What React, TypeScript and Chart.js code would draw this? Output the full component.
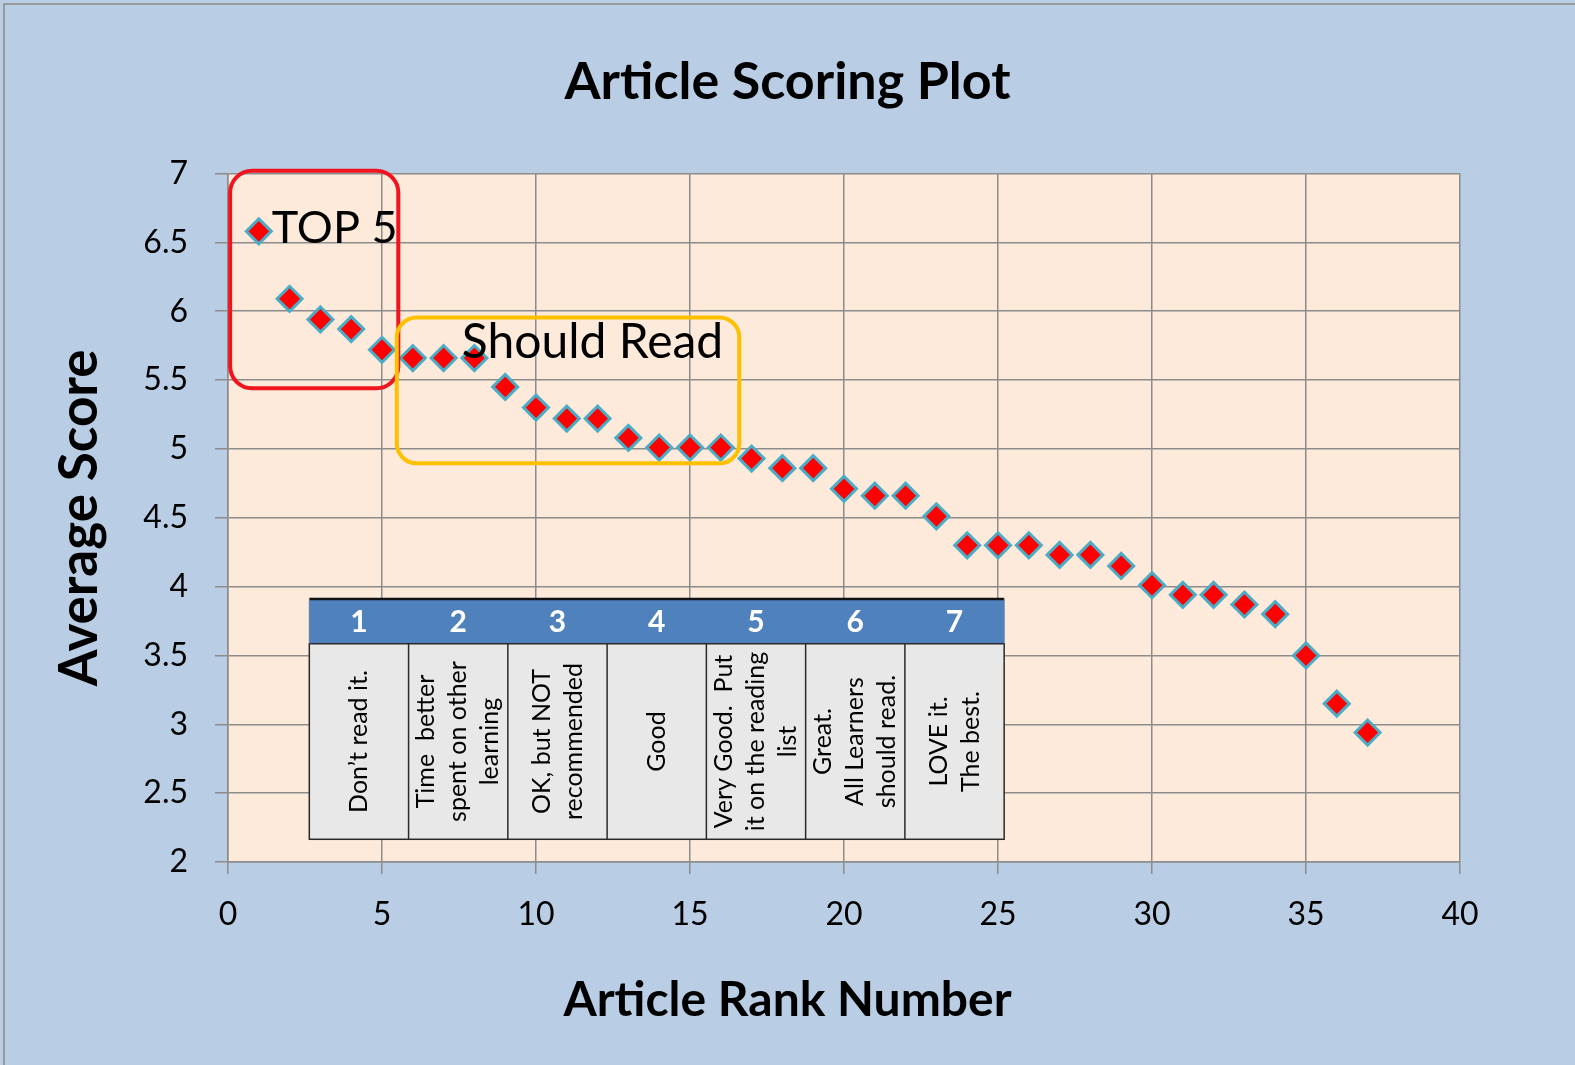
import React, { useEffect, useRef } from "react";
import { Chart, registerables } from "chart.js";

Chart.register(...registerables);

// ---- data ----
const ranks = [1, 2, 3, 4, 5, 6, 7, 8, 9, 10, 11, 12, 13, 14, 15, 16, 17, 18, 19, 20, 21, 22, 23, 24, 25, 26, 27, 28, 29, 30, 31, 32, 33, 34, 35, 36, 37];
const scores = [6.58, 6.09, 5.94, 5.87, 5.72, 5.66, 5.66, 5.66, 5.45, 5.30, 5.22, 5.22, 5.08, 5.01, 5.01, 5.01, 4.93, 4.86, 4.86, 4.71, 4.66, 4.66, 4.51, 4.30, 4.30, 4.30, 4.23, 4.23, 4.15, 4.01, 3.94, 3.94, 3.87, 3.80, 3.50, 3.15, 2.94];

const chartTitle = "Article Scoring Plot";
const xTitle = "Article Rank Number";
const yTitle = "Average Score";

const tableHeaders = ["1", "2", "3", "4", "5", "6", "7"];
const tableLabels = [
  ["Don\u2019t read it."],
  ["Time  better", "spent on other", "learning"],
  ["OK, but NOT", "recommended"],
  ["Good"],
  ["Very Good.  Put", "it on the reading", "list"],
  ["Great.", "All Learners", "should read."],
  ["LOVE it.", "The best."],
];

const top5Label = "TOP 5";
const shouldReadLabel = "Should Read";

const FONT = "Lato, 'Open Sans', sans-serif";

const overlayPlugin = {
  id: "overlay",
  beforeDraw(chart: any) {
    const { ctx, chartArea } = chart;
    ctx.save();
    ctx.fillStyle = "#FDEADA";
    ctx.fillRect(chartArea.left, chartArea.top, chartArea.right - chartArea.left, chartArea.bottom - chartArea.top);
    ctx.restore();
  },
  afterDatasetsDraw(chart: any) {
    const { ctx } = chart;
    const xs = chart.scales.x;
    const ys = chart.scales.y;
    const px = (v: number) => xs.getPixelForValue(v);
    const py = (v: number) => ys.getPixelForValue(v);

    // ---- table ----
    const tL = px(2.64), tR = px(25.2);
    const hTop = py(3.91), hBot = py(3.585), bBot = py(2.165);
    const colW = (tR - tL) / tableHeaders.length;
    ctx.save();
    ctx.fillStyle = "#4F81BD";
    ctx.fillRect(tL, hTop, tR - tL, hBot - hTop);
    ctx.fillStyle = "#E8E8E8";
    ctx.fillRect(tL, hBot, tR - tL, bBot - hBot);
    ctx.strokeStyle = "#2a2a2a";
    ctx.lineWidth = 1.5;
    ctx.strokeRect(tL, hBot, tR - tL, bBot - hBot);
    for (let i = 1; i < tableHeaders.length; i++) {
      ctx.beginPath();
      ctx.moveTo(tL + i * colW, hBot);
      ctx.lineTo(tL + i * colW, bBot);
      ctx.stroke();
    }
    ctx.lineWidth = 2.5;
    ctx.strokeStyle = "#111";
    ctx.beginPath();
    ctx.moveTo(tL, hTop);
    ctx.lineTo(tR, hTop);
    ctx.stroke();
    ctx.lineWidth = 1;
    ctx.strokeStyle = "#5a7fb0";
    ctx.beginPath();
    ctx.moveTo(tL, hTop);
    ctx.lineTo(tL, hBot);
    ctx.moveTo(tR, hTop);
    ctx.lineTo(tR, hBot);
    ctx.stroke();

    ctx.fillStyle = "#FFFFFF";
    ctx.font = `bold 30px ${FONT}`;
    ctx.textAlign = "center";
    ctx.textBaseline = "middle";
    tableHeaders.forEach((h, i) => {
      ctx.fillText(h, tL + (i + 0.5) * colW, (hTop + hBot) / 2 + 1);
    });

    ctx.fillStyle = "#000";
    ctx.font = `25px ${FONT}`;
    const lineGap = 32;
    tableLabels.forEach((lines, i) => {
      const cx = tL + (i + 0.5) * colW;
      const cy = (hBot + bBot) / 2;
      ctx.save();
      ctx.translate(cx, cy);
      ctx.rotate(-Math.PI / 2);
      lines.forEach((ln, j) => {
        ctx.fillText(ln, 0, (j - (lines.length - 1) / 2) * lineGap);
      });
      ctx.restore();
    });
    ctx.restore();

    // ---- highlight boxes ----
    ctx.save();
    ctx.lineWidth = 4;
    ctx.strokeStyle = "#F0141E";
    ctx.beginPath();
    const rL = px(0.07), rR = px(5.53), rT = py(7.02), rB = py(5.44);
    (ctx as any).roundRect(rL, rT, rR - rL, rB - rT, 22);
    ctx.stroke();

    ctx.strokeStyle = "#FFC000";
    ctx.beginPath();
    const oL = px(5.48), oR = px(16.6), oT = py(5.955), oB = py(4.895);
    (ctx as any).roundRect(oL, oT, oR - oL, oB - oT, 20);
    ctx.stroke();

    ctx.fillStyle = "#000";
    ctx.textAlign = "left";
    ctx.textBaseline = "alphabetic";
    ctx.font = `45px ${FONT}`;
    ctx.fillText(top5Label, px(1.42), py(6.495));
    ctx.font = `48px ${FONT}`;
    ctx.fillText(shouldReadLabel, px(7.59), py(5.66));
    ctx.restore();
  },
};

export default function App() {
  const ref = useRef<HTMLCanvasElement>(null);
  useEffect(() => {
    if (!ref.current) return;
    const chart = new Chart(ref.current, {
      type: "scatter",
      data: {
        datasets: [
          {
            data: ranks.map((r, i) => ({ x: r, y: scores[i] })),
            pointStyle: "rectRot",
            pointRadius: 12.5,
            pointHoverRadius: 12.5,
            backgroundColor: "#FF0000",
            borderColor: "#4BACC6",
            borderWidth: 3,
            showLine: false,
          } as any,
        ],
      },
      options: {
        responsive: false,
        animation: false,
        events: [],
        layout: { padding: 0 },
        plugins: {
          legend: { display: false },
          tooltip: { enabled: false },
          title: {
            display: true,
            text: chartTitle,
            color: "#000",
            font: { family: FONT, size: 52, weight: "bold" },
            padding: { top: 50.8, bottom: 60.3 },
          },
          subtitle: {
            display: true,
            position: "bottom",
            text: xTitle,
            color: "#000",
            font: { family: FONT, size: 48, weight: "bold" },
            padding: { top: 0, bottom: 35.2 },
          },
        },
        scales: {
          x: {
            type: "linear",
            min: 0,
            max: 40,
            ticks: { stepSize: 5, color: "#000", font: { family: FONT, size: 32 }, padding: 21 },
            grid: { color: "#8c8c8c", lineWidth: 1.5, tickLength: 12, drawTicks: true },
            border: { color: "#8c8c8c", width: 1.5 },
            afterFit: (s: any) => {
              s.height = 110.2;
            },
          },
          y: {
            type: "linear",
            min: 2,
            max: 7,
            ticks: {
              stepSize: 0.5,
              color: "#000",
              font: { family: FONT, size: 32 },
              padding: 27,
              callback: (v: any) => `${Number(v)}`,
            },
            grid: { color: "#8c8c8c", lineWidth: 1.5, tickLength: 13, drawTicks: true },
            border: { color: "#8c8c8c", width: 1.5 },
            title: {
              display: true,
              text: yTitle,
              color: "#000",
              font: { family: FONT, size: 53, weight: "bold" },
              padding: { top: 48.2, bottom: 0 },
            },
            afterFit: (s: any) => {
              s.width = 228;
            },
          },
          y2: {
            type: "linear",
            position: "right",
            display: true,
            grid: { display: false, drawTicks: false },
            ticks: { display: false },
            border: { display: false },
            afterFit: (s: any) => {
              s.width = 115;
            },
          },
        },
      } as any,
      plugins: [overlayPlugin],
    });
    return () => chart.destroy();
  }, []);

  return (
    <div style={{ position: "fixed", left: 0, top: 0, width: 1575, height: 1065, background: "#B9CDE5", overflow: "hidden" }}>
      <div style={{ position: "absolute", left: 3, top: 3, right: 0, bottom: 0, borderTop: "2px solid #9a9a9a", borderLeft: "2px solid #9a9a9a" }} />
      <canvas ref={ref} width={1575} height={1065} style={{ position: "absolute", left: 0, top: 0, width: 1575, height: 1065 }} />
    </div>
  );
}
